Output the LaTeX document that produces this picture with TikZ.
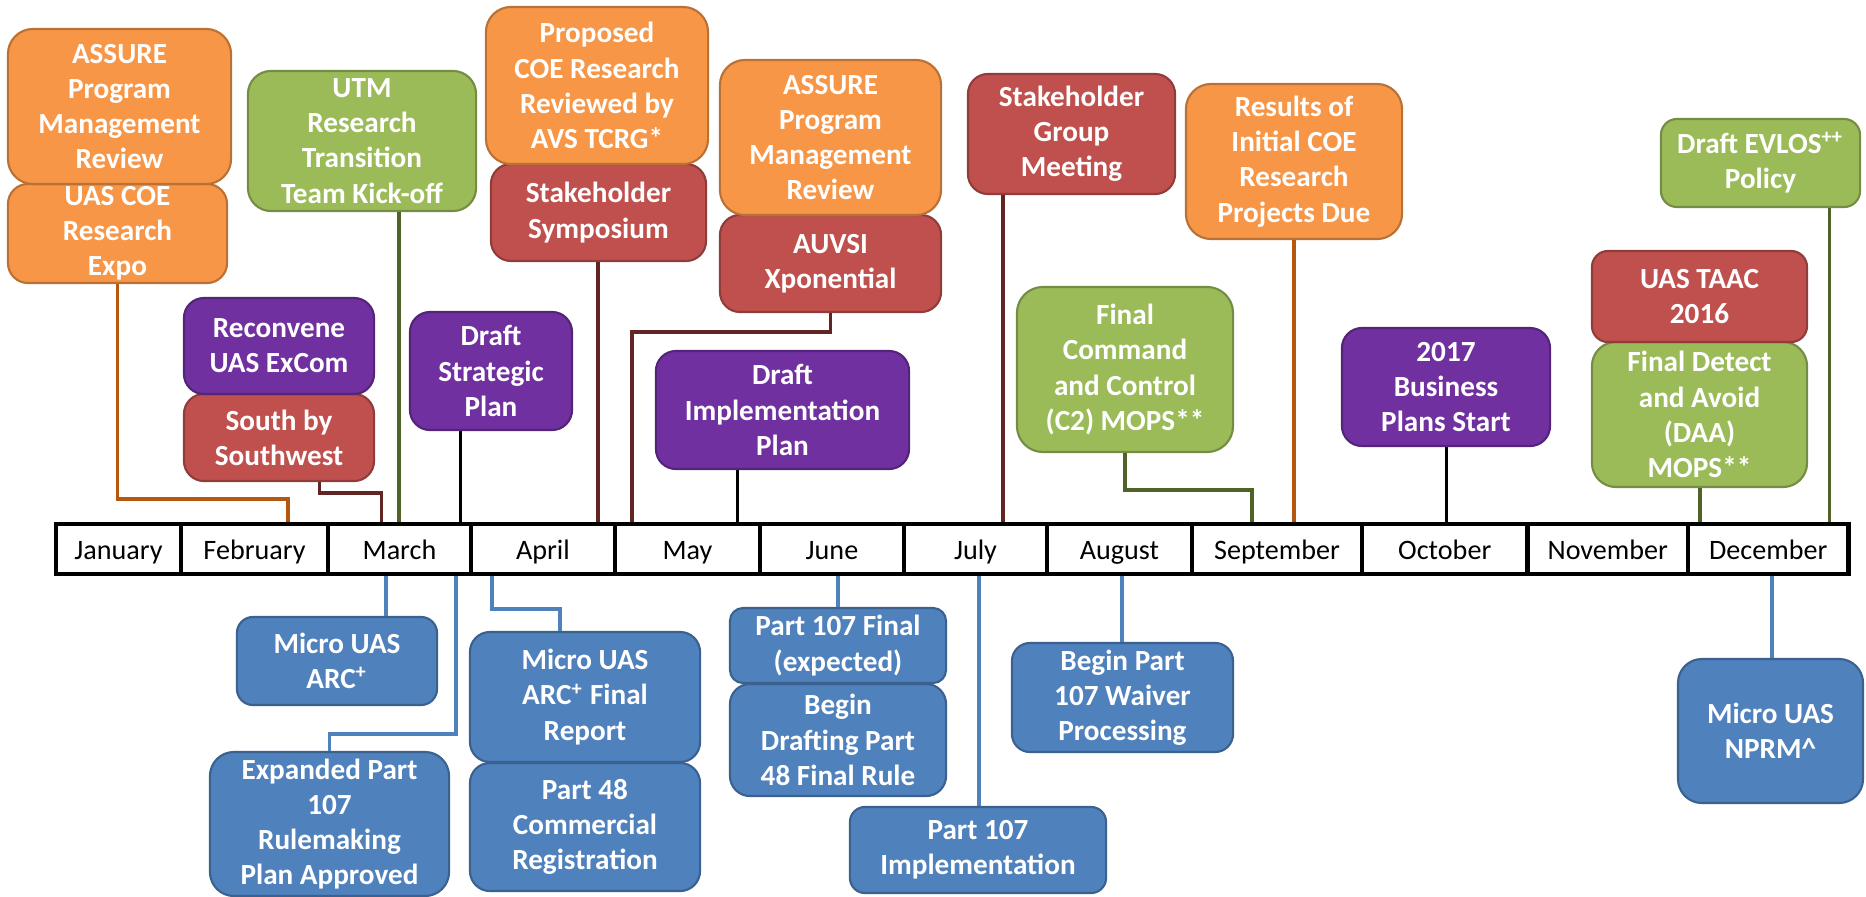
\documentclass[tikz,border=0pt]{standalone}
\usepackage{fontspec}
\setmainfont{Carlito}
\usepackage{tikz}
\usetikzlibrary{calc}
\definecolor{orangefill}{HTML}{F79646}
\definecolor{greenfill}{HTML}{9BBB59}
\definecolor{redfill}{HTML}{C0504D}
\definecolor{purplefill}{HTML}{7030A0}
\definecolor{bluefill}{HTML}{4F81BD}
\definecolor{orangelink}{HTML}{B4580F}
\definecolor{redlink}{HTML}{632523}
\definecolor{greenlink}{HTML}{4F6228}
\tikzstyle{ev}=[shape=rectangle,rounded corners=2mm,line width=0.6pt,text=white,align=center,inner sep=0pt,font=\fontsize{8.3}{10}\selectfont\bfseries]
\tikzstyle{ob}=[ev,fill=orangefill,draw=orangefill!75!black]
\tikzstyle{gb}=[ev,fill=greenfill,draw=greenfill!75!black]
\tikzstyle{rb}=[ev,fill=redfill,draw=redfill!75!black]
\tikzstyle{pb}=[ev,fill=purplefill,draw=purplefill!75!black]
\tikzstyle{bb}=[ev,fill=bluefill,draw=bluefill!75!black]
\tikzstyle{mon}=[shape=rectangle,draw,line width=1.3pt,minimum height=0.5cm,inner sep=0pt,text height=0.25cm,text depth=0.05cm,font=\fontsize{8}{9.6}\selectfont]
\tikzstyle{link}=[line width=1.1pt]
\tikzstyle{olink}=[link,draw=orangelink]
\tikzstyle{rlink}=[link,draw=redlink]
\tikzstyle{glink}=[link,draw=greenlink]
\tikzstyle{plink}=[link,draw=black]
\tikzstyle{blink}=[link,draw=bluefill]

\begin{document}
\begin{tikzpicture}[x=0.01cm,y=-0.01cm]
            \useasboundingbox (0, 0) rectangle (1866, 897);

            % months
            \node[mon, minimum width=1.25cm] (jan) at (118.5, 549) {January}
            ;
            \node[mon, minimum width=1.47cm] (feb) at (254.5, 549) {February}
            ;
            \node[mon, minimum width=1.43cm] (mar) at (399.5, 549) {March}
            ;
            \node[mon, minimum width=1.44cm] (apr) at (543, 549) {April}
            ;
            \node[mon, minimum width=1.45cm] (may) at (687.5, 549) {May}
            ;
            \node[mon, minimum width=1.44cm] (jun) at (832, 549) {June}
            ;
            \node[mon, minimum width=1.43cm] (jul) at (975.5, 549) {July}
            ;
            \node[mon, minimum width=1.45cm] (aug) at (1119.5, 549) {August}
            ;
            \node[mon, minimum width=1.70cm] (sep) at (1277, 549) {September}
            ;
            \node[mon, minimum width=1.655cm] (oct) at (1444.75, 549) {October}
            ;
            \node[mon, minimum width=1.605cm] (nov) at (1607.75, 549) {November}
            ;
            \node[mon, minimum width=1.605cm] (dec) at (1768.25, 549) {December}
            ;

            \coordinate (tExpo) at (288, 522);
            \coordinate (tSxsw) at (381.5, 522);
            \coordinate (tUtm) at (399, 522);
            \coordinate (tStrat) at (460.5, 522);
            \coordinate (tSympo) at (598, 522);
            \coordinate (tAuvsi) at (632, 522);
            \coordinate (tImplan) at (737.5, 522);
            \coordinate (tGroup) at (1003, 522);
            \coordinate (tCtwo) at (1252, 522);
            \coordinate (tResults) at (1294, 522);
            \coordinate (tBusiness) at (1446.5, 522);
            \coordinate (tDaa) at (1700, 522);
            \coordinate (tEvlos) at (1829.5, 522);
            \coordinate (bArc) at (386, 576);
            \coordinate (bExpanded) at (456, 576);
            \coordinate (bArcfinal) at (492, 576);
            \coordinate (bPfinal) at (838, 576);
            \coordinate (bImplement) at (979, 576);
            \coordinate (bWaiver) at (1122, 576);
            \coordinate (bNprm) at (1772, 576);

            % above the timeline
            \node[ob, minimum width=2.19cm, minimum height=0.99cm] (expo) at (117.5, 233.5) {UAS COE\\Research\\Expo}
            ;
            \node[ob, minimum width=2.23cm, minimum height=1.55cm, rounded corners=2.5mm] (assureA) at (119.5, 106.5) {ASSURE\\Program\\Management\\Review}
            ;
            \node[gb, minimum width=2.28cm, minimum height=1.40cm, rounded corners=2.3mm] (utm) at (362, 141) {UTM\\Research\\Transition\\Team Kick-off}
            ;
            \node[rb, minimum width=1.90cm, minimum height=0.87cm] (sxsw) at (279, 437.5) {South by\\Southwest}
            ;
            \node[pb, minimum width=1.90cm, minimum height=0.96cm] (reconv) at (279, 346) {Reconvene\\UAS ExCom}
            ;
            \node[pb, minimum width=1.62cm, minimum height=1.18cm] (strat) at (491, 371) {Draft\\Strategic\\Plan}
            ;
            \node[rb, minimum width=2.15cm, minimum height=0.97cm] (sympo) at (598.5, 212.5) {Stakeholder\\Symposium}
            ;
            \node[ob, minimum width=2.22cm, minimum height=1.57cm, rounded corners=2.5mm] (proposed) at (597, 85.5) {Proposed\\COE Research\\Reviewed by\\AVS TCRG*}
            ;
            \node[rb, minimum width=2.21cm, minimum height=0.97cm] (auvsi) at (830.5, 263.5) {AUVSI\\Xponential}
            ;
            \node[ob, minimum width=2.21cm, minimum height=1.55cm, rounded corners=2.5mm] (assureB) at (830.5, 137.5) {ASSURE\\Program\\Management\\Review}
            ;
            \node[pb, minimum width=2.53cm, minimum height=1.18cm] (implan) at (782.5, 410) {Draft\\Implementation\\Plan}
            ;
            \node[rb, minimum width=2.07cm, minimum height=1.20cm] (group) at (1071.5, 134) {Stakeholder\\Group\\Meeting}
            ;
            \node[gb, minimum width=2.16cm, minimum height=1.65cm, rounded corners=2.6mm] (ctwo) at (1125, 369.5) {Final\\Command\\and Control\\(C2) MOPS**}
            ;
            \node[ob, minimum width=2.16cm, minimum height=1.55cm, rounded corners=2.5mm] (results) at (1294, 161.5) {Results of\\Initial COE\\Research\\Projects Due}
            ;
            \node[pb, minimum width=2.08cm, minimum height=1.18cm] (business) at (1446, 387) {2017\\Business\\Plans Start}
            ;
            \node[gb, minimum width=2.15cm, minimum height=1.45cm, rounded corners=2.4mm] (daa) at (1699.5, 414.5) {Final Detect\\and Avoid\\(DAA)\\MOPS**}
            ;
            \node[rb, minimum width=2.15cm, minimum height=0.91cm, rounded corners=1.6mm] (taac) at (1699.5, 296.5) {UAS TAAC\\2016}
            ;
            \node[gb, minimum width=1.99cm, minimum height=0.88cm, rounded corners=1.6mm] (evlos) at (1760.5, 163) {Draft EVLOS\textsuperscript{++}\\Policy}
            ;

            % below the timeline
            \node[bb, minimum width=2.00cm, minimum height=0.88cm, rounded corners=1.6mm] (arc) at (337, 661) {Micro UAS\\ARC\textsuperscript{+}}
            ;
            \node[bb, minimum width=2.39cm, minimum height=1.44cm, rounded corners=2.4mm] (expanded) at (329.5, 824) {Expanded Part\\107\\Rulemaking\\Plan Approved}
            ;
            \node[bb, minimum width=2.30cm, minimum height=1.28cm] (part48) at (585, 827) {Part 48\\Commercial\\Registration}
            ;
            \node[bb, minimum width=2.30cm, minimum height=1.30cm] (arcfinal) at (585, 697) {Micro UAS\\ARC\textsuperscript{+} Final\\Report}
            ;
            \node[bb, minimum width=2.16cm, minimum height=1.12cm] (drafting) at (838, 740) {Begin\\Drafting Part\\48 Final Rule}
            ;
            \node[bb, minimum width=2.16cm, minimum height=0.75cm, rounded corners=1.3mm] (pfinal) at (838, 645.5) {Part 107 Final\\(expected)}
            ;
            \node[bb, minimum width=2.56cm, minimum height=0.86cm, rounded corners=1.5mm] (implement) at (978, 850) {Part 107\\Implementation}
            ;
            \node[bb, minimum width=2.21cm, minimum height=1.09cm, rounded corners=1.8mm] (waiver) at (1122.5, 697.5) {Begin Part\\107 Waiver\\Processing}
            ;
            \node[bb, minimum width=1.85cm, minimum height=1.44cm, rounded corners=2.4mm] (nprm) at (1770.5, 731) {Micro UAS\\NPRM\textasciicircum}
            ;

            \draw[olink] (expo.south) -- ++(0, 215) -| (tExpo);
            \draw[rlink] ($(sxsw.south)+(40.5, 0)$) -- ++(0, 11) -| (tSxsw);
            \draw[glink] (utm.south -| tUtm) -- (tUtm);
            \draw[plink] (strat.south -| tStrat) -- (tStrat);
            \draw[rlink] (sympo.south -| tSympo) -- (tSympo);
            \draw[rlink] (auvsi.south) -- ++(0, 19) -| (tAuvsi);
            \draw[plink] (implan.south -| tImplan) -- (tImplan);
            \draw[rlink] (group.south -| tGroup) -- (tGroup);
            \draw[glink] (ctwo.south) -- ++(0, 36.5) -| (tCtwo);
            \draw[olink] (results.south -| tResults) -- (tResults);
            \draw[plink] (business.south -| tBusiness) -- (tBusiness);
            \draw[glink] (daa.south -| tDaa) -- (tDaa);
            \draw[glink] (evlos.south -| tEvlos) -- (tEvlos);

            \draw[blink] (bArc) -- (bArc |- arc.north);
            \draw[blink] (bExpanded) -- ++(0, 158) -| (expanded.north);
            \draw[blink] (bArcfinal) -- ++(0, 33) -| ($(arcfinal.north)+(-25, 0)$);
            \draw[blink] (bPfinal) -- (bPfinal |- pfinal.north);
            \draw[blink] (bImplement) -- (bImplement |- implement.north);
            \draw[blink] (bWaiver) -- (bWaiver |- waiver.north);
            \draw[blink] (bNprm) -- (bNprm |- nprm.north);
\end{tikzpicture}
\end{document}
